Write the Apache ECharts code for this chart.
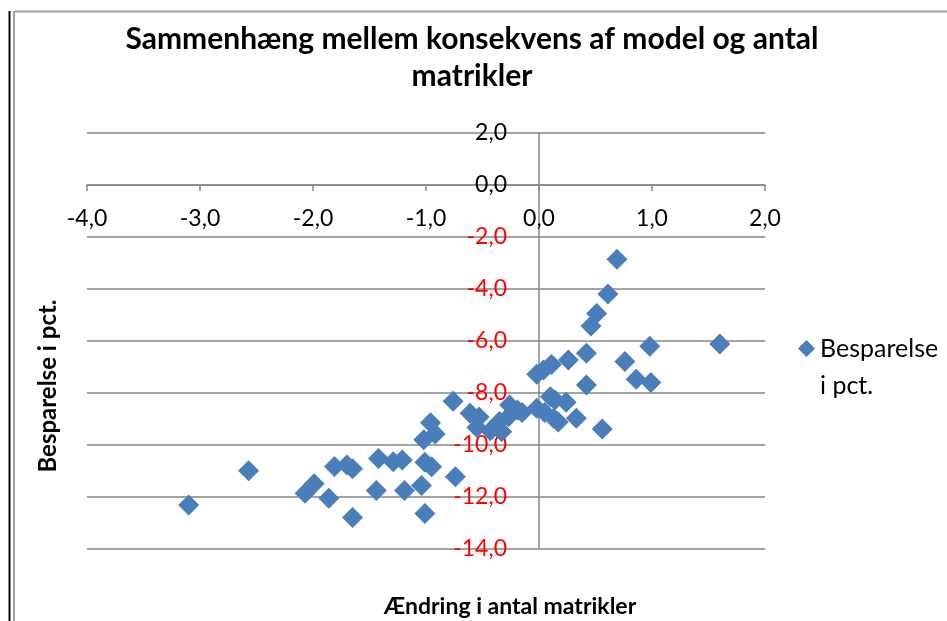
<!DOCTYPE html>
<html>
<head>
<meta charset="utf-8">
<script src="https://cdn.jsdelivr.net/npm/echarts@6/dist/echarts.min.js"></script>
<style>
html,body{margin:0;padding:0;background:#fff;}
#chart{width:947px;height:621px;}
</style>
</head>
<body>
<div id="chart"></div>
<script>
var titleText = 'Sammenhæng mellem konsekvens af model og antal\nmatrikler';
var xAxisTitle = 'Ændring i antal matrikler';
var yAxisTitle = 'Besparelse i pct.';
var seriesName = 'Besparelse i pct.';
var legendText = 'Besparelse\ni pct.';
var xTicks = [-4, -3, -2, -1, 0, 1, 2];
var yTicks = [-14, -12, -10, -8, -6, -4, -2, 0, 2];

var changeX = [
  -3.10, -2.57, -2.07, -1.99, -1.86, -1.81, -1.70, -1.65, -1.65, -1.42,
  -1.44, -1.29, -1.21, -1.19, -1.04, -1.01, -1.01, -0.95, -1.02, -0.96,
  -0.92, -0.74, -0.76, -0.61, -0.53, -0.55, -0.43, -0.33, -0.35, -0.27,
  -0.26, -0.19, -0.15, -0.02, 0.04, 0.11, 0.26, 0.42, 0.42, 0.10,
  0.14, 0.24, -0.02, 0.05, 0.13, 0.17, 0.33, 0.56, 0.46, 0.51,
  0.61, 0.69, 0.76, 0.86, 0.99, 0.98, 1.60
];
var savingY = [
  -12.31, -10.99, -11.86, -11.49, -12.05, -10.83, -10.77, -10.91, -12.79, -10.52,
  -11.75, -10.64, -10.58, -11.75, -11.56, -12.63, -10.66, -10.84, -9.80, -9.14,
  -9.58, -11.22, -8.32, -8.78, -8.92, -9.33, -9.45, -9.49, -9.10, -8.91,
  -8.46, -8.65, -8.75, -7.28, -7.12, -6.90, -6.73, -6.47, -7.69, -8.14,
  -8.27, -8.36, -8.59, -8.75, -8.97, -9.12, -8.97, -9.38, -5.42, -4.94,
  -4.19, -2.86, -6.79, -7.47, -7.60, -6.20, -6.12
];

var points = changeX.map(function (x, i) { return [x, savingY[i]]; });
function fmt(v) { return Number(v).toFixed(1).replace('.', ','); }

var FONT = 'Lato, "Noto Sans", sans-serif';
var chart = echarts.init(document.getElementById('chart'), null, {renderer: 'canvas'});
chart.setOption({
  animation: false,
  backgroundColor: '#ffffff',
  title: {
    text: titleText,
    left: 467, top: 16, textAlign: 'center',
    textStyle: {fontFamily: FONT, fontSize: 30, fontWeight: 'bold', color: '#000', lineHeight: 37}
  },
  legend: {
    left: 793, top: 325,
    orient: 'vertical',
    itemWidth: 17, itemHeight: 54,
    formatter: function () { return legendText; },
    textStyle: {fontFamily: FONT, fontSize: 25, color: '#000', lineHeight: 37},
    data: [{name: seriesName, icon: 'path://M8.5,0L17,8.5L8.5,17L0,8.5Z M8.5,54L8.5,54'}]
  },
  grid: {left: 87, right: 182, top: 133, bottom: 72, containLabel: false},
  xAxis: {
    type: 'value',
    min: xTicks[0], max: xTicks[xTicks.length - 1], interval: 1,
    axisLine: {onZero: true, lineStyle: {color: '#868686', width: 1.5}},
    axisTick: {show: true, length: 6, lineStyle: {color: '#868686', width: 1.5}},
    splitLine: {show: false},
    axisLabel: {
      margin: -342, fontFamily: FONT, fontSize: 23, color: '#000',
      formatter: fmt
    }
  },
  yAxis: {
    type: 'value',
    min: yTicks[0], max: yTicks[yTicks.length - 1], interval: 2,
    axisLine: {onZero: true, lineStyle: {color: '#868686', width: 1.5}},
    axisTick: {show: false},
    splitLine: {show: true, lineStyle: {color: '#868686', width: 1.5}},
    axisLabel: {
      margin: -420, fontFamily: FONT, fontSize: 23,
      formatter: fmt,
      color: function (v) { return Number(v) < 0 ? '#ff0000' : '#000000'; }
    }
  },
  graphic: [
    {type: 'line', shape: {x1: 14, y1: 11.5, x2: 947, y2: 11.5}, style: {stroke: '#a0a0a0', lineWidth: 2}},
    {type: 'line', shape: {x1: 14, y1: 11, x2: 14, y2: 621}, style: {stroke: '#a0a0a0', lineWidth: 2}},
    {type: 'line', shape: {x1: 9.5, y1: 11, x2: 9.5, y2: 621}, style: {stroke: '#000000', lineWidth: 2}},
    {type: 'text', x: 48, y: 386, rotation: Math.PI / 2,
      style: {text: yAxisTitle, fontFamily: FONT, fontSize: 24, fontWeight: 'bold', fill: '#000', align: 'center', verticalAlign: 'middle'}},
    {type: 'text', x: 510, y: 607,
      style: {text: xAxisTitle, fontFamily: FONT, fontSize: 23, fontWeight: 'bold', fill: '#000', align: 'center', verticalAlign: 'middle'}}
  ],
  series: [{
    name: seriesName,
    type: 'scatter',
    symbol: 'diamond',
    symbolSize: 21,
    itemStyle: {color: '#4a7ebb', opacity: 1},
    data: points
  }]
});
</script>
</body>
</html>
